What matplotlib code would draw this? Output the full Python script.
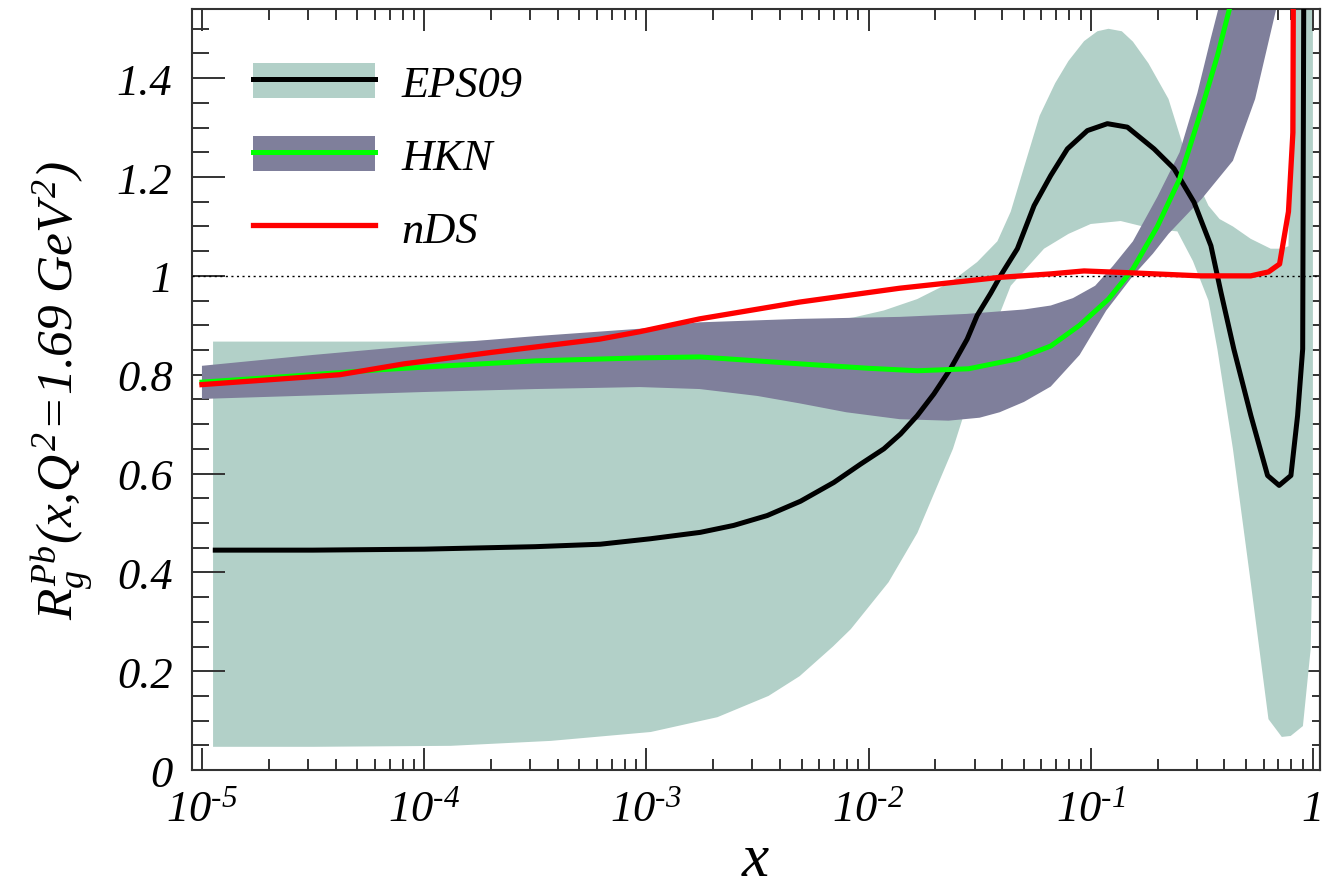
import numpy as np
import matplotlib
matplotlib.use("Agg")
import matplotlib.pyplot as plt
from matplotlib.patches import Patch
from matplotlib.lines import Line2D
from matplotlib.legend_handler import HandlerTuple
from matplotlib.ticker import LogLocator, MultipleLocator, FuncFormatter, FixedLocator, NullFormatter

plt.rcParams["font.family"] = ["Liberation Serif", "DejaVu Serif"]
plt.rcParams["font.style"] = "italic"
plt.rcParams["mathtext.fontset"] = "custom"
plt.rcParams["mathtext.rm"] = "Liberation Serif:italic"
plt.rcParams["mathtext.it"] = "Liberation Serif:italic"
plt.rcParams["mathtext.default"] = "it"

# --- EPS09 gluon modification, Pb, Q^2 = 1.69 GeV^2 (values given at log10 x) ---
eps_logx = [-4.94, -4.5, -4.0, -3.5, -3.207, -2.982, -2.757, -2.607, -2.456, -2.306, -2.156,
            -2.036, -1.931, -1.856, -1.781, -1.706, -1.631, -1.556, -1.511, -1.45, -1.405,
            -1.33, -1.255, -1.18, -1.105, -1.015, -0.925, -0.835, -0.715, -0.625, -0.535,
            -0.459, -0.414, -0.356, -0.279, -0.204, -0.152, -0.099, -0.069, -0.046, -0.041]
eps_val = [0.445, 0.445, 0.447, 0.452, 0.457, 0.468, 0.481, 0.495, 0.515, 0.544, 0.582,
           0.619, 0.650, 0.680, 0.717, 0.761, 0.812, 0.872, 0.920, 0.965, 1.001,
           1.055, 1.142, 1.203, 1.257, 1.294, 1.308, 1.301, 1.257, 1.217, 1.149,
           1.061, 0.967, 0.852, 0.717, 0.596, 0.576, 0.596, 0.717, 0.852, 1.6]

eps_up_logx = [-4.95, -4.0, -3.5, -3.0, -2.5, -2.066, -1.931, -1.781, -1.631, -1.511, -1.42,
               -1.36, -1.30, -1.23, -1.16, -1.10, -1.03, -0.97, -0.92, -0.86, -0.81, -0.74,
               -0.65, -0.58, -0.52, -0.47, -0.42, -0.36, -0.28, -0.19, -0.14, -0.11, -0.09,
               0.0]
eps_up = [0.867, 0.867, 0.87, 0.878, 0.89, 0.916, 0.930, 0.953, 0.987, 1.028, 1.07,
          1.13, 1.22, 1.324, 1.39, 1.435, 1.475, 1.495, 1.50, 1.495, 1.474, 1.43,
          1.358, 1.257, 1.19, 1.142, 1.115, 1.10, 1.075, 1.055, 1.055, 1.06, 1.6,
          1.6]
eps_lo_logx = [-4.95, -4.5, -3.88, -3.43, -2.98, -2.68, -2.45, -2.31, -2.16, -2.08, -1.91,
               -1.78, -1.62, -1.50, -1.36, -1.21, -1.10, -1.0, -0.865, -0.72, -0.61, -0.54,
               -0.47, -0.43, -0.36, -0.28, -0.20, -0.14, -0.10, -0.045, -0.01, 0.0]
eps_lo = [0.047, 0.047, 0.049, 0.059, 0.077, 0.107, 0.15, 0.19, 0.25, 0.285, 0.38,
          0.48, 0.65, 0.82, 0.98, 1.055, 1.085, 1.105, 1.111, 1.095, 1.09, 1.03,
          0.95, 0.852, 0.65, 0.38, 0.103, 0.067, 0.069, 0.089, 0.245, 0.48]

# --- HKN ---
hkn_logx = [-5.0, -4.6, -4.2, -3.9, -3.5, -3.03, -2.76, -2.31, -2.0, -1.78, -1.55, -1.33,
            -1.18, -1.05, -0.92, -0.81, -0.70, -0.60, -0.51, -0.43, -0.37]
hkn_val = [0.785, 0.797, 0.810, 0.818, 0.828, 0.834, 0.836, 0.822, 0.813, 0.808, 0.812, 0.832,
           0.858, 0.90, 0.953, 1.014, 1.10, 1.196, 1.324, 1.445, 1.55]
hkn_up_logx = [-5.0, -4.5, -4.0, -3.5, -3.03, -2.76, -2.31, -1.86, -1.56, -1.30, -1.18, -1.08,
               -0.98, -0.90, -0.81, -0.70, -0.60, -0.52, -0.46, -0.42]
hkn_up = [0.818, 0.840, 0.860, 0.878, 0.893, 0.906, 0.913, 0.917, 0.923, 0.932, 0.94, 0.955,
          0.98, 1.02, 1.07, 1.16, 1.25, 1.37, 1.48, 1.55]
hkn_lo_logx = [-5.0, -4.5, -4.0, -3.5, -3.03, -2.76, -2.5, -2.31, -2.1, -1.86, -1.64, -1.50,
               -1.41, -1.30, -1.18, -1.05, -0.93, -0.81, -0.72, -0.65, -0.50, -0.36, -0.26,
               -0.16]
hkn_lo = [0.751, 0.758, 0.765, 0.771, 0.775, 0.771, 0.757, 0.742, 0.724, 0.71, 0.707, 0.713,
          0.724, 0.745, 0.776, 0.84, 0.93, 1.0, 1.045, 1.085, 1.156, 1.233, 1.358,
          1.55]

# --- nDS ---
nds_logx = [-5.0, -4.38, -4.09, -3.70, -3.21, -3.03, -2.76, -2.31, -1.86, -1.41, -1.18, -1.03,
            -0.81, -0.505, -0.28, -0.20, -0.15, -0.11, -0.09, -0.088]
nds_val = [0.78, 0.80, 0.822, 0.845, 0.872, 0.887, 0.913, 0.947, 0.975, 0.997, 1.004, 1.01,
           1.006, 1.0, 1.0, 1.008, 1.024, 1.13, 1.29, 1.6]

labels = ["EPS09", "HKN", "nDS"]
xticks = [1e-5, 1e-4, 1e-3, 1e-2, 1e-1, 1.0]
yticks = [0, 0.2, 0.4, 0.6, 0.8, 1.0, 1.2, 1.4]

c_eps = "#b2d0c8"
c_hkn = "#7f7f9b"

fig = plt.figure(figsize=(13.22, 8.95), dpi=100)
ax = fig.add_axes([0.1452, 0.1385, 0.8533, 0.8503])

def band(lx_up, up, lx_lo, lo):
    xs = np.concatenate([10 ** np.array(lx_up), 10 ** np.array(lx_lo)[::-1]])
    ys = np.concatenate([np.array(up), np.array(lo)[::-1]])
    return xs, ys

bx, by = band(eps_up_logx, eps_up, eps_lo_logx, eps_lo)
ax.fill(bx, by, color=c_eps, lw=0, zorder=1)
bx, by = band(hkn_up_logx, hkn_up, hkn_lo_logx, hkn_lo)
ax.fill(bx, by, color=c_hkn, lw=0, zorder=2)

ax.axhline(1.0, color="black", lw=1.0, ls=(0, (1.5, 2.5)), zorder=3)

ax.plot(10 ** np.array(eps_logx), eps_val, color="black", lw=3.6, zorder=4)
ax.plot(10 ** np.array(hkn_logx), hkn_val, color="#00ff00", lw=3.6, zorder=5)
ax.plot(10 ** np.array(nds_logx), nds_val, color="#ff0000", lw=3.8, zorder=6)

ax.set_xscale("log")
ax.set_xlim(10 ** -5.045, 10 ** 0.032)
ax.set_ylim(0, 1.54)

ax.xaxis.set_major_locator(FixedLocator(xticks))
ax.xaxis.set_minor_locator(LogLocator(base=10, subs=np.arange(2, 10), numticks=20))
ax.xaxis.set_minor_formatter(NullFormatter())
ax.xaxis.set_major_formatter(FuncFormatter(
    lambda v, p: "1" if abs(v - 1) < 1e-9 else r"$10^{\text{-}%d}$" % abs(round(np.log10(v)))))
ax.yaxis.set_major_locator(FixedLocator(yticks))
ax.yaxis.set_minor_locator(MultipleLocator(0.05))
ax.yaxis.set_major_formatter(FuncFormatter(lambda v, p: "%g" % v))

ax.tick_params(axis="both", which="both", direction="in", color="#333333", width=1.4)
ax.tick_params(axis="x", which="major", length=16, top=True, labelsize=32, pad=14)
ax.tick_params(axis="x", which="minor", length=8, top=True)
ax.tick_params(axis="y", which="major", length=24, right=False, labelsize=32, pad=14)
ax.tick_params(axis="y", which="minor", length=12, right=False)

ax_r = ax.secondary_yaxis("right")
ax_r.yaxis.set_major_locator(FixedLocator(yticks))
ax_r.yaxis.set_minor_locator(MultipleLocator(0.05))
ax_r.tick_params(axis="y", which="major", direction="in", length=18, width=1.4,
                 color="#333333", labelright=False)
ax_r.tick_params(axis="y", which="minor", direction="in", length=6, width=1.4, color="#333333")
ax_r.spines["right"].set_linewidth(1.5)
ax_r.spines["right"].set_color("#333333")

for s in ax.spines.values():
    s.set_linewidth(1.5)
    s.set_color("#333333")

ax.set_xlabel("$x$", fontsize=44, labelpad=2)
ax.set_ylabel(r"$R_g^{Pb}(x{,}Q^2\!=\!1.69\ GeV^2)$", fontsize=37, labelpad=16)

handles = [
    (Patch(facecolor=c_eps, lw=0), Line2D([], [], color="black", lw=3.6)),
    (Patch(facecolor=c_hkn, lw=0), Line2D([], [], color="#00ff00", lw=3.6)),
    Line2D([], [], color="#ff0000", lw=3.8),
]
ax.legend(handles, labels, handler_map={tuple: HandlerTuple(ndivide=1)},
          loc="upper left", bbox_to_anchor=(0.054, 0.929), borderaxespad=0, borderpad=0,
          frameon=False, fontsize=32, handlelength=2.75, handleheight=0.83,
          handletextpad=0.6, labelspacing=0.70)

fig.savefig("out.png", dpi=100)
